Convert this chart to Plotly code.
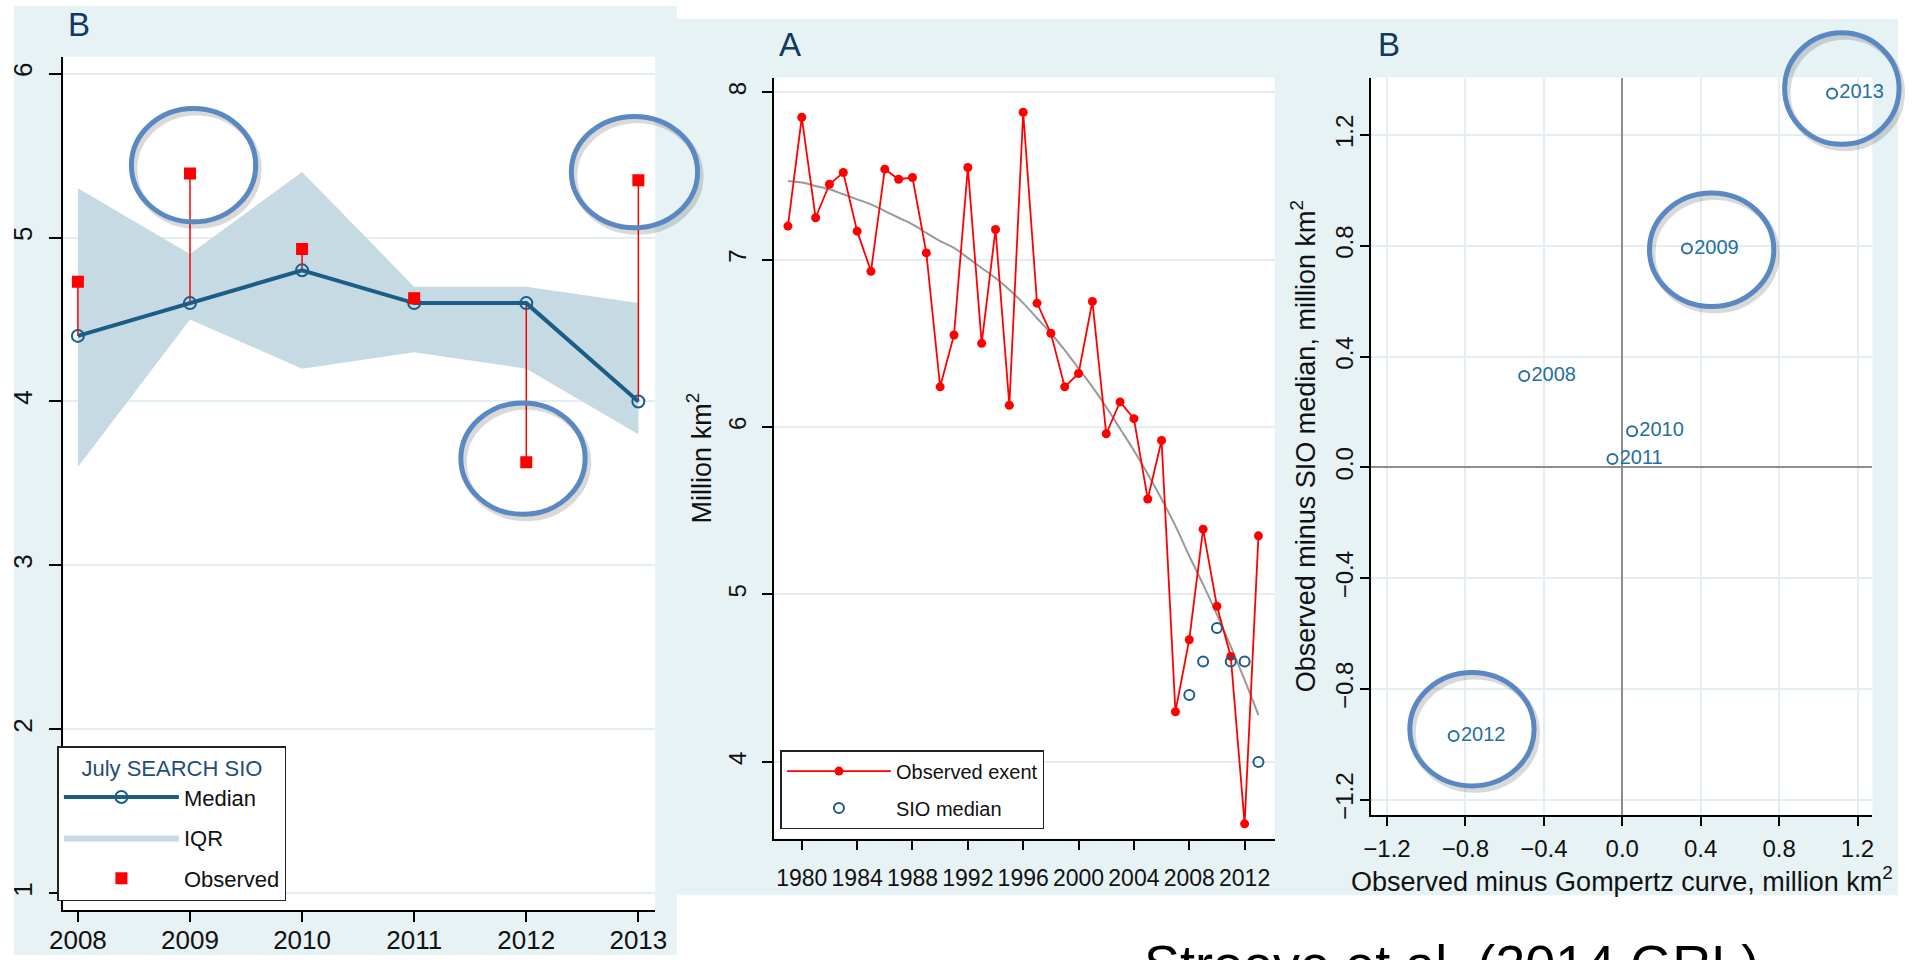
import plotly.graph_objects as go

W, H = 1915, 960
FONT = "Liberation Sans, Arial, Helvetica, sans-serif"

# ---------------- data ----------------
# Left panel (B): July SEARCH SIO outlook vs observed September extent
sio_years = [2008, 2009, 2010, 2011, 2012, 2013]
sio_median = [4.4, 4.6, 4.8, 4.6, 4.6, 4.0]
sio_q75 = [5.3, 4.9, 5.4, 4.7, 4.7, 4.6]
sio_q25 = [3.6, 4.5, 4.2, 4.3, 4.2, 3.8]
sio_observed = [4.73, 5.39, 4.93, 4.63, 3.63, 5.35]

# Middle panel (A): observed September extent and Gompertz curve
ext_years = list(range(1979, 2014))
observed_extent = [7.20, 7.85, 7.25, 7.45, 7.52, 7.17, 6.93, 7.54, 7.48, 7.49,
                   7.04, 6.24, 6.55, 7.55, 6.50, 7.18, 6.13, 7.88, 6.74, 6.56,
                   6.24, 6.32, 6.75, 5.96, 6.15, 6.05, 5.57, 5.92, 4.30, 4.73,
                   5.39, 4.93, 4.63, 3.63, 5.35]
gompertz_curve = [7.47, 7.46, 7.44, 7.42, 7.39, 7.36, 7.33, 7.29, 7.25, 7.21,
                  7.16, 7.11, 7.07, 7.01, 6.95, 6.89, 6.82, 6.74, 6.65, 6.56,
                  6.46, 6.35, 6.24, 6.12, 5.99, 5.86, 5.72, 5.57, 5.41, 5.23,
                  5.06, 4.88, 4.69, 4.49, 4.28]

# Right panel (B): residuals
resid_gompertz = [-0.50, 0.33, 0.05, -0.05, -0.86, 1.07]
resid_sio = [0.33, 0.79, 0.13, 0.03, -0.97, 1.35]
resid_labels = ["2008", "2009", "2010", "2011", "2012", "2013"]

# tick labels
left_yticks = [1, 2, 3, 4, 5, 6]
mid_xticks = [1980, 1984, 1988, 1992, 1996, 2000, 2004, 2008, 2012]
mid_yticks = [4, 5, 6, 7, 8]
right_ticks = [-1.2, -0.8, -0.4, 0.0, 0.4, 0.8, 1.2]

# ---------------- styling ----------------
BLUE = "#1b5d87"
RED = "#ff0000"
IQR_FILL = "#c6dae3"
PANEL_BG = "#e7f2f5"
GRID = "#e3eef2"
HILITE = "#5a88c2"


def px(x):
    return x / W


def py(y):
    return 1 - y / H


fig = go.Figure()

# ---- left panel ----
fig.add_trace(go.Scatter(
    x=sio_years + sio_years[::-1], y=sio_q75 + sio_q25[::-1],
    fill="toself", fillcolor=IQR_FILL, line=dict(width=0), mode="lines",
    name="IQR", legend="legend", legendrank=2, legendgroup="iqr",
    xaxis="x", yaxis="y", hoverinfo="skip"))
stem_x, stem_y = [], []
for yr, med, obs in zip(sio_years, sio_median, sio_observed):
    stem_x += [yr, yr, None]
    stem_y += [med, obs, None]
fig.add_trace(go.Scatter(
    x=stem_x, y=stem_y, mode="lines", line=dict(color=RED, width=1.5),
    showlegend=False, xaxis="x", yaxis="y", hoverinfo="skip"))
fig.add_trace(go.Scatter(
    x=sio_years, y=sio_median, mode="lines+markers", name="Median",
    line=dict(color=BLUE, width=4),
    marker=dict(symbol="circle-open", size=12, color=BLUE, line=dict(width=2)),
    legend="legend", legendrank=1, legendgroup="med", xaxis="x", yaxis="y"))
fig.add_trace(go.Scatter(
    x=sio_years, y=sio_observed, mode="markers", name="Observed",
    marker=dict(symbol="square", size=12, color=RED),
    legend="legend", legendrank=3, legendgroup="obs", xaxis="x", yaxis="y"))

# ---- middle panel ----
fig.add_trace(go.Scatter(
    x=ext_years, y=gompertz_curve, mode="lines",
    line=dict(color="#999999", width=2, shape="spline"),
    showlegend=False, xaxis="x2", yaxis="y2"))
fig.add_trace(go.Scatter(
    x=ext_years, y=observed_extent, mode="lines+markers", name="Observed exent",
    line=dict(color=RED, width=1.8), marker=dict(size=9, color=RED),
    legend="legend2", legendgroup="ext", xaxis="x2", yaxis="y2"))
fig.add_trace(go.Scatter(
    x=sio_years, y=sio_median, mode="markers", name="SIO median",
    marker=dict(symbol="circle-open", size=10, color=BLUE, line=dict(width=2)),
    legend="legend2", legendgroup="siomed", xaxis="x2", yaxis="y2"))

# ---- right panel ----
fig.add_trace(go.Scatter(
    x=resid_gompertz, y=resid_sio, mode="markers+text", text=resid_labels,
    textposition="middle right", cliponaxis=False,
    textfont=dict(family=FONT, size=20, color="#2370a1"),
    marker=dict(symbol="circle-open", size=10, color="#2370a1", line=dict(width=2)),
    showlegend=False, xaxis="x3", yaxis="y3"))

# ---------------- axes ----------------
common = dict(showline=True, linecolor="black", linewidth=1.5, ticks="outside",
              tickcolor="black", tickwidth=1.5, ticklen=10, mirror=False,
              zeroline=False, gridcolor=GRID, gridwidth=1.5,
              tickfont=dict(family=FONT, color="#111111"))

fig.update_layout(
    xaxis=dict(common, domain=[px(50), px(650)], range=[2007.87, 2013.15],
               tickvals=sio_years, showgrid=False, anchor="y",
               ticklabelstandoff=-4,
               tickfont=dict(family=FONT, size=26, color="#111111")),
    yaxis=dict(common, domain=[py(915), py(57)], range=[0.897, 6.103],
               tickvals=left_yticks, tickangle=-90, ticklen=13, showgrid=True,
               anchor="x", ticklabelstandoff=6,
               tickfont=dict(family=FONT, size=26, color="#111111")),
    xaxis2=dict(common, domain=[px(770), px(1278)], range=[1977.96, 2014.17],
                tickvals=mid_xticks, showgrid=False, anchor="y2",
                ticklabelstandoff=8,
                tickfont=dict(family=FONT, size=23, color="#111111")),
    yaxis2=dict(common, domain=[py(843), py(78)], range=[3.542, 8.087],
                tickvals=mid_yticks, tickangle=-90, showgrid=True, anchor="x2",
                ticklabelstandoff=6,
                tickfont=dict(family=FONT, size=24, color="#111111"),
                title=dict(text="Million km<sup>2</sup>", standoff=5,
                           font=dict(family=FONT, size=27, color="#111111"))),
    xaxis3=dict(common, domain=[px(1376), px(1884)], range=[-1.28, 1.276],
                tickvals=right_ticks, tickformat=".1f", showgrid=True,
                zeroline=True, zerolinecolor="#8e8e8e", zerolinewidth=1.5,
                anchor="y3", ticklabelstandoff=2,
                tickfont=dict(family=FONT, size=24, color="#111111"),
                title=dict(text="Observed minus Gompertz curve, million km<sup>2</sup>",
                           standoff=4,
                           font=dict(family=FONT, size=27, color="#111111"))),
    yaxis3=dict(common, domain=[py(819), py(78)], range=[-1.254, 1.407],
                tickvals=right_ticks, tickformat=".1f", tickangle=-90,
                showgrid=True, zeroline=True, zerolinecolor="#8e8e8e",
                zerolinewidth=1.5, anchor="x3", ticklabelstandoff=-3,
                tickfont=dict(family=FONT, size=24, color="#111111"),
                title=dict(text="Observed minus SIO median, million km<sup>2</sup>",
                           standoff=8,
                           font=dict(family=FONT, size=27, color="#111111"))),
)

# ---------------- legends ----------------
fig.update_layout(
    legend=dict(x=px(44), y=py(750), xanchor="left", yanchor="top",
                bgcolor="white", bordercolor="#222222", borderwidth=1.5,
                font=dict(family=FONT, size=22, color="#111111"),
                title=dict(text="July SEARCH SIO", side="top center",
                           font=dict(family=FONT, size=22, color="#1f4e79")),
                itemwidth=115, tracegroupgap=9, traceorder="grouped"),
    legend2=dict(x=px(777), y=py(754), xanchor="left", yanchor="top",
                 bgcolor="white", bordercolor="#222222", borderwidth=1.5,
                 font=dict(family=FONT, size=20, color="#111111"),
                 itemwidth=104, tracegroupgap=8, traceorder="grouped"),
)

# ---------------- backgrounds ----------------
shapes = [
    dict(type="rect", xref="paper", yref="paper", x0=px(0), x1=px(672),
         y0=py(960), y1=py(6), fillcolor=PANEL_BG, line=dict(width=0), layer="below"),
    dict(type="rect", xref="paper", yref="paper", x0=px(672), x1=px(1910),
         y0=py(900), y1=py(19), fillcolor=PANEL_BG, line=dict(width=0), layer="below"),
]
for xa, ya in [("x", "y"), ("x2", "y2"), ("x3", "y3")]:
    shapes.append(dict(type="rect", xref=f"{xa} domain", yref=f"{ya} domain",
                       x0=0, x1=1, y0=0, y1=1, fillcolor="white",
                       line=dict(width=0), layer="below"))

# highlight circles drawn by hand on the slide (pixel centre, radii)
highlights = [(182, 166, 63, 57), (629, 173, 64, 56), (516, 461, 63, 56),
              (1853, 89, 58, 56), (1721, 251, 63, 57), (1478, 733, 63, 57)]
for cx, cy, rx, ry in highlights:
    shapes.append(dict(type="circle", xref="paper", yref="paper",
                       x0=px(cx - rx + 3), x1=px(cx + rx + 3),
                       y0=py(cy + ry + 4), y1=py(cy - ry + 4),
                       line=dict(color="rgba(0,0,0,0.15)", width=6), layer="above"))
    shapes.append(dict(type="circle", xref="paper", yref="paper",
                       x0=px(cx - rx), x1=px(cx + rx),
                       y0=py(cy + ry), y1=py(cy - ry),
                       line=dict(color=HILITE, width=5), layer="above"))
fig.update_layout(shapes=shapes)

# ---------------- text ----------------
annotations = [
    dict(text="B", x=px(53), y=py(25), xanchor="left", yanchor="middle"),
    dict(text="A", x=px(774), y=py(45), xanchor="left", yanchor="middle"),
    dict(text="B", x=px(1381), y=py(45), xanchor="left", yanchor="middle"),
]
for a in annotations:
    a.update(xref="paper", yref="paper", showarrow=False,
             font=dict(family=FONT, size=33, color="#12395e"))
annotations.append(dict(text="Stroeve et al. (2014 GRL)", xref="paper", yref="paper",
                        x=px(1457), y=py(937), xanchor="center", yanchor="top",
                        showarrow=False,
                        font=dict(family=FONT, size=54, color="black")))
fig.update_layout(annotations=annotations)

fig.update_layout(
    width=W, height=H, margin=dict(l=0, r=0, t=0, b=0),
    paper_bgcolor="white", plot_bgcolor="rgba(0,0,0,0)",
    font=dict(family=FONT), showlegend=True,
)

fig.write_html("out.html")
